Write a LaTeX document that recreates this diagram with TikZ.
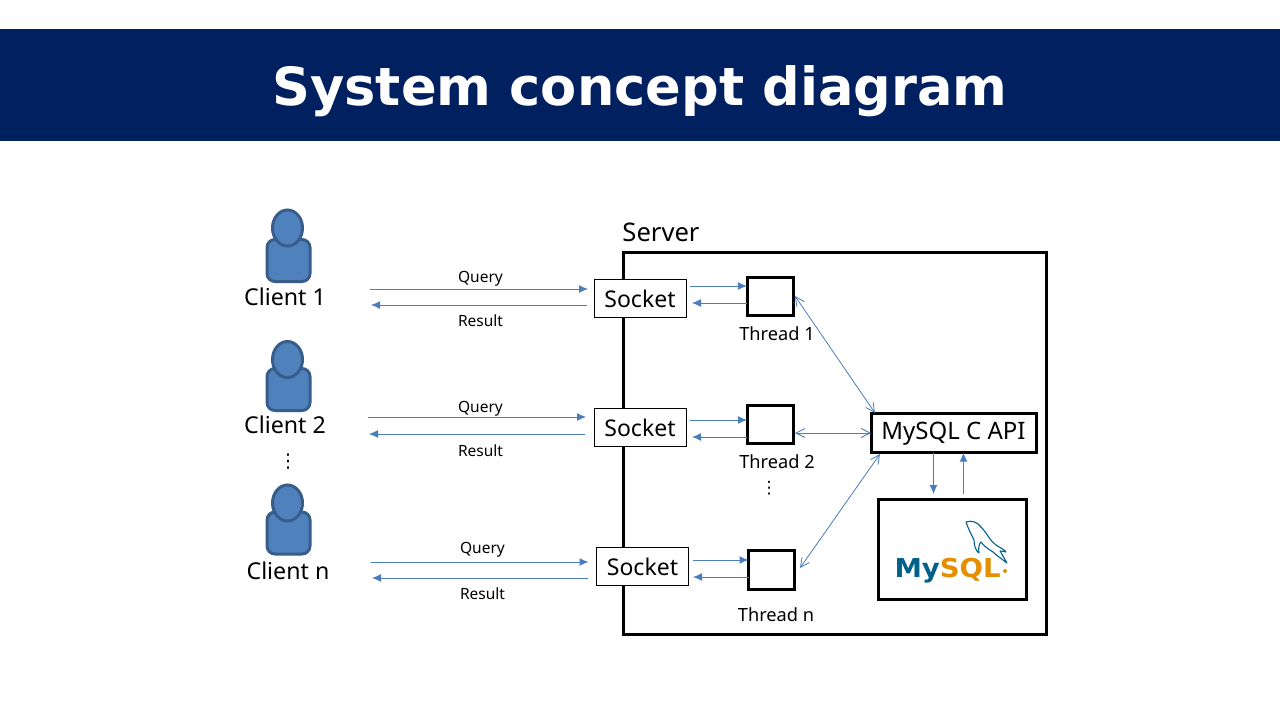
\documentclass[tikz,border=0pt]{standalone}
\usepackage{fontspec}
\setmainfont{Noto Sans}
\newfontfamily\titlefont{DejaVu Sans}
\newfontfamily\dotsfont{DejaVu Sans}
\usetikzlibrary{arrows.meta,shapes.geometric}
\definecolor{banner}{HTML}{002060}
\definecolor{pfill}{HTML}{4F81BD}
\definecolor{pline}{HTML}{385D8A}
\definecolor{arrowc}{HTML}{4A7EBB}
\definecolor{mysqlblue}{HTML}{00618A}
\definecolor{mysqlorange}{HTML}{E48E00}
\tikzset{
  every node/.style={inner sep=0,outer sep=0},
  head/.style={ellipse,draw=pline,fill=pfill,line width=3pt,minimum width=30pt,minimum height=36pt},
  torso/.style={rectangle,rounded corners=8pt,draw=pline,fill=pfill,line width=3pt,minimum width=43pt,minimum height=42pt},
  clientlabel/.style={font=\fontsize{23.2}{26}\selectfont},
  small/.style={font=\fontsize{15.5}{18}\selectfont},
  threadlabel/.style={font=\fontsize{18.2}{20}\selectfont},
  sockbox/.style={rectangle,draw=black,fill=white,line width=1pt,minimum width=92pt,minimum height=38pt,font=\fontsize{23}{26}\selectfont},
  threadbox/.style={rectangle,draw=black,fill=white,line width=3pt,minimum width=46pt,minimum height=38pt},
  arr/.style={draw=arrowc,line width=1pt,-{Latex[length=9pt,width=8pt]}},
  dbl/.style={draw=arrowc,line width=0.8pt,{Straight Barb[length=9pt,width=9pt]}-{Straight Barb[length=9pt,width=9pt]}},
}
\begin{document}
\begin{tikzpicture}[x=1pt,y=-1pt]
\useasboundingbox (0,0) rectangle (1280,720);
\fill[white] (0,0) rectangle (1280,720);
% banner
\node[rectangle,fill=banner,minimum width=1280pt,minimum height=112pt,anchor=north west] (banner) at (0,29) {};
\node[text=white,font=\titlefont\bfseries\fontsize{52.6}{60}\selectfont] (title) at (640,91.5) {System concept diagram};
% server
\node[rectangle,draw=black,line width=3pt,minimum width=423pt,minimum height=382pt,anchor=north west] (server) at (623.5,252) {};
\node[font=\fontsize{25.6}{30}\selectfont] (serverlabel) at (661,232.5) {Server};
% clients
\node[torso] (b1) at (288.5,260.5) {};
\node[head] (h1) at (287.5,228) {};
\node[clientlabel] (cl1) at (285,297) {Client 1};
\node[torso] (b2) at (288.5,389.5) {};
\node[head] (h2) at (287.5,359.5) {};
\node[clientlabel] (cl2) at (285,425) {Client 2};
\node[font=\dotsfont\fontsize{19}{22}\selectfont] (d1) at (288,462) {⋮};
\node[torso] (b3) at (288.5,533) {};
\node[head] (h3) at (287.5,503) {};
\node[clientlabel] (cl3) at (288,571) {Client n};
% sockets
\node[sockbox] (s1) at (640,298.5) {\raisebox{-1.5pt}{Socket}};
\node[sockbox] (s2) at (640,427.5) {\raisebox{-1.5pt}{Socket}};
\node[sockbox] (s3) at (642.5,566.5) {\raisebox{-1.5pt}{Socket}};
% threads
\node[threadbox] (t1) at (770,296.5) {};
\node[threadbox] (t2) at (770,424.5) {};
\node[threadbox,minimum height=39pt] (t3) at (771.5,570) {};
\node[threadlabel] (tl1) at (777,333.5) {Thread 1};
\node[threadlabel] (tl2) at (777,461.5) {Thread 2};
\node[font=\dotsfont\fontsize{17}{20}\selectfont] (d2) at (769,488) {⋮};
\node[threadlabel] (tl3) at (776,614.5) {Thread n};
% api and db
\node[rectangle,draw=black,fill=white,line width=3pt,minimum width=165pt,minimum height=39pt,font=\fontsize{24}{26}\selectfont] (api) at (953.5,433.2) {\raisebox{-1.5pt}{MySQL C API}};
\node[rectangle,draw=black,fill=white,line width=3pt,minimum width=148pt,minimum height=100pt] (db) at (952,549.5) {};
% logo
\node[font=\titlefont\bfseries\fontsize{26}{30}\selectfont,anchor=base west,xscale=1.06] (logo) at (894.5,577) {\textcolor{mysqlblue}{My}\textcolor{mysqlorange}{SQL}};
\fill[mysqlorange] (1005,571) circle (2pt);
\draw[mysqlblue,line width=1.1pt,line join=round,fill=white]
  (966,522) .. controls (972,520) and (977,522) .. (981,527)
  .. controls (987,533) and (990,541) .. (996,545)
  .. controls (1000,548) and (1004,549) .. (1006,552)
  .. controls (1003,551) and (1001,551) .. (1000,551)
  .. controls (1002,554) and (1004,558) .. (1007,563)
  .. controls (1002,559) and (997,556) .. (993,552)
  .. controls (988,549) and (984,546) .. (981,542)
  .. controls (979,544) and (978,549) .. (979,553)
  .. controls (976,551) and (974,546) .. (974,540)
  .. controls (971,534) and (968,528) .. (966,522) -- cycle;
% client-socket arrows
\coordinate (q1) at (370,289); \coordinate (r1) at (371,305);
\coordinate (q2) at (368,417); \coordinate (r2) at (369,434);
\coordinate (q3) at (371,562); \coordinate (r3) at (372,578);
\draw[arr,shorten >=6pt] (q1) -- (s1.west |- q1);
\draw[arr,shorten <=7pt] (s1.west |- r1) -- (r1);
\draw[arr,shorten >=8pt] (q2) -- (s2.west |- q2);
\draw[arr,shorten <=9pt] (s2.west |- r2) -- (r2);
\draw[arr,shorten >=8pt] (q3) -- (s3.west |- q3);
\draw[arr,shorten <=9pt] (s3.west |- r3) -- (r3);
\node[small] (lq1) at (480.5,279) {Query};
\node[small] (lr1) at (480.5,321) {Result};
\node[small] (lq2) at (480.5,409) {Query};
\node[small] (lr2) at (480.5,450.5) {Result};
\node[small] (lq3) at (482.5,550) {Query};
\node[small] (lr3) at (482.5,594) {Result};
% socket-thread arrows
\coordinate (a1) at (690,286); \coordinate (b1x) at (692,303);
\coordinate (a2) at (690,420); \coordinate (b2x) at (692,437);
\coordinate (a3) at (693,560); \coordinate (b3x) at (693,577);
\draw[arr] (a1) -- (t1.west |- a1);
\draw[arr] (t1.west |- b1x) -- (b1x);
\draw[arr] (a2) -- (t2.west |- a2);
\draw[arr] (t2.west |- b2x) -- (b2x);
\draw[arr] (a3) -- (t3.west |- a3);
\draw[arr] (t3.west |- b3x) -- (b3x);
% thread-api arrows
\coordinate (e1) at (795,296); \coordinate (f1) at (875,413);
\coordinate (e3) at (800,568); \coordinate (f3) at (880,454);
\coordinate (m2) at (795,433);
\draw[dbl] (e1) -- (f1);
\draw[dbl] (m2) -- (api.west |- m2);
\draw[dbl] (e3) -- (f3);
% api-db arrows
\coordinate (g1) at (933.5,494); \coordinate (g2) at (963.5,494);
\draw[arr] (api.south -| g1) -- (g1);
\draw[arr] (g2) -- (api.south -| g2);
\end{tikzpicture}
\end{document}
